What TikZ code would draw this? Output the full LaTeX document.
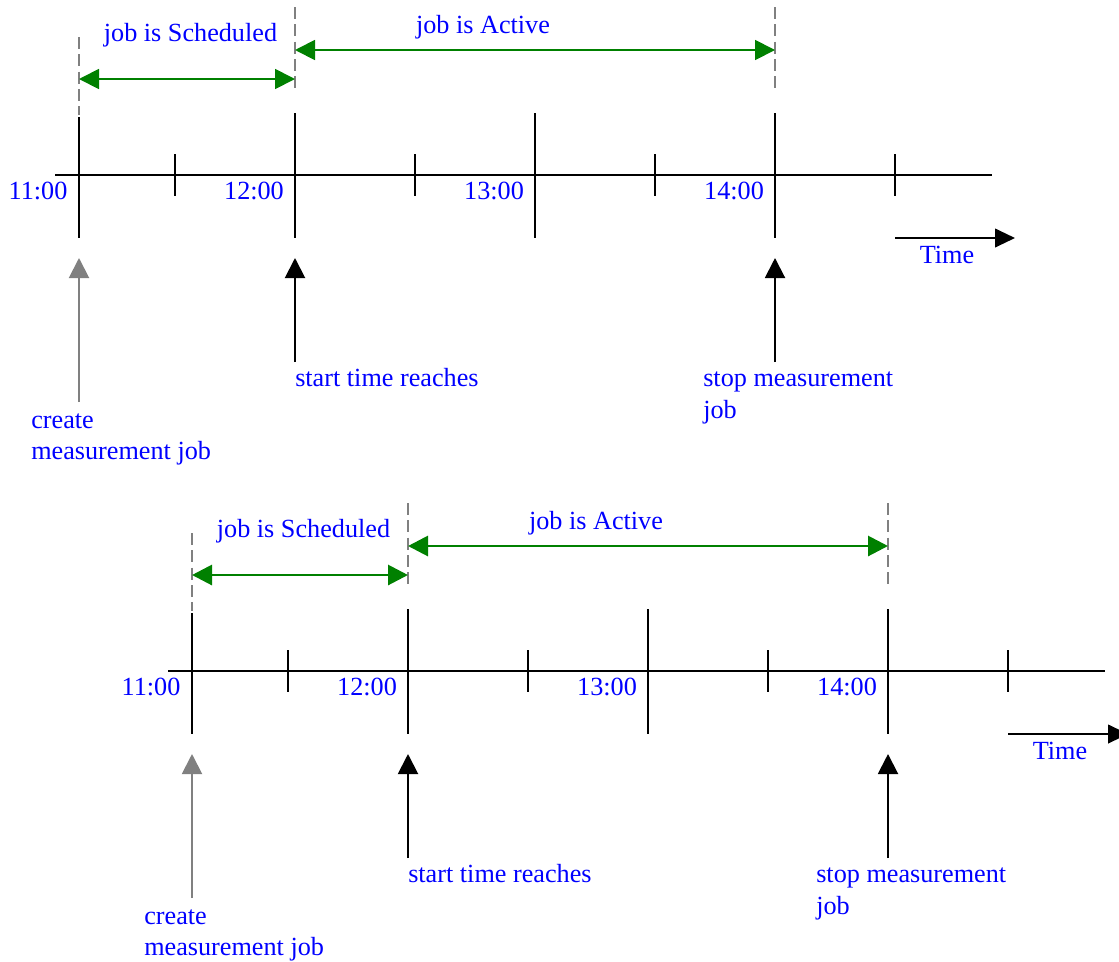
\documentclass[tikz,border=0pt]{standalone}
\usepackage{fontspec}
\setmainfont{Liberation Serif}
\usetikzlibrary{arrows.meta}
\definecolor{lblue}{RGB}{0,0,255}
\definecolor{lgreen}{RGB}{0,128,0}
\definecolor{lgray}{RGB}{128,128,128}
\tikzset{
  lbl/.style={text=lblue, font=\fontsize{19.65}{23.5}\selectfont, inner sep=0pt},
  axisline/.style={line width=1.4pt},
  tickline/.style={line width=1.4pt},
  guideline/.style={draw=lgray, line width=#1, dash pattern=on 9pt off 4pt},
  spanarrow/.style={draw=lgreen, line width=#1,
    {Triangle[length=15pt,width=15pt]}-{Triangle[length=15pt,width=15pt]}},
  eventarrow/.style={draw=#1, line width=1.5pt, -{Triangle[length=15pt,width=15pt]}},
  timearrow/.style={line width=1.5pt, -{Triangle[length=15pt,width=14pt]}}
}
\newcommand\drawtimeline[2]{%
  % axis
  \coordinate (axL#1) at (55,175);
  \coordinate (axR#1) at (992,175);
  \draw[axisline] (axL#1) -- (axR#1);
  % major ticks
  \foreach \x/\t in {79/117,295/113,535/113,775/113}{
    \coordinate (majT\x#1) at (\x,\t);
    \coordinate (majB\x#1) at (\x,238);
    \draw[tickline] (majT\x#1) -- (majB\x#1);
  }
  % minor ticks
  \foreach \x in {175,415,655,895}{
    \coordinate (minT\x#1) at (\x,154);
    \coordinate (minB\x#1) at (\x,196);
    \draw[tickline] (minT\x#1) -- (minB\x#1);
  }
  % dashed guides
  \coordinate (gA1#1) at (79,37);  \coordinate (gA2#1) at (79,115);
  \coordinate (gB1#1) at (295,7);  \coordinate (gB2#1) at (295,88);
  \coordinate (gC1#1) at (775,7);  \coordinate (gC2#1) at (775,88);
  \draw[guideline=#2] (gA1#1) -- (gA2#1);
  \draw[guideline=#2] (gB1#1) -- (gB2#1);
  \draw[guideline=#2] (gC1#1) -- (gC2#1);
  % spans
  \coordinate (sS1#1) at (79,79);  \coordinate (sS2#1) at (295,79);
  \coordinate (sA1#1) at (295,50); \coordinate (sA2#1) at (775,50);
  \draw[spanarrow=#2] (sS1#1) -- (sS2#1);
  \draw[spanarrow=#2] (sA1#1) -- (sA2#1);
  \node[lbl] (sched#1) at (190.5,35.5) {job is Scheduled};
  \node[lbl] (active#1) at (483,27) {job is Active};
  % hour labels
  \node[lbl] (h11#1) at (38,191) {11:00};
  \node[lbl] (h12#1) at (254,191) {12:00};
  \node[lbl] (h13#1) at (494,191) {13:00};
  \node[lbl] (h14#1) at (734,191) {14:00};
  % time arrow
  \coordinate (tA#1) at (895,238);
  \coordinate (tB#1) at (1015,238);
  \draw[timearrow] (tA#1) -- (tB#1);
  \node[lbl] (time#1) at (947,255) {Time};
  % event arrows
  \coordinate (eC1#1) at (79,402);  \coordinate (eC2#1) at (79,258);
  \coordinate (eS1#1) at (295,362); \coordinate (eS2#1) at (295,258);
  \coordinate (eP1#1) at (775,362); \coordinate (eP2#1) at (775,258);
  \draw[eventarrow=lgray] (eC1#1) -- (eC2#1);
  \draw[eventarrow=black] (eS1#1) -- (eS2#1);
  \draw[eventarrow=black] (eP1#1) -- (eP2#1);
  \node[lbl, align=left, anchor=west] (create#1) at (31,439.5) {create\\measurement job};
  \node[lbl, anchor=west] (start#1) at (295,378) {start time reaches};
  \node[lbl, align=left, anchor=west] (stop#1) at (703,398) {stop measurement\\job};
}
\begin{document}
\begin{tikzpicture}[x=0.75pt,y=-0.75pt]
  \useasboundingbox (0,0) rectangle (1119,961);
  \begin{scope}
    \drawtimeline{a}{1.4pt}
  \end{scope}
  \begin{scope}[shift={(113,496)}]
    \drawtimeline{b}{2.2pt}
  \end{scope}
\end{tikzpicture}
\end{document}
